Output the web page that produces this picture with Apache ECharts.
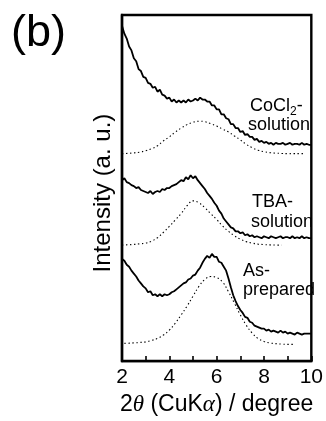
<!DOCTYPE html>
<html>
<head>
<meta charset="utf-8">
<script src="https://cdn.jsdelivr.net/npm/echarts@6/dist/echarts.min.js"></script>
<style>
  html, body { margin: 0; padding: 0; background: #fff; }
  #chart { width: 326px; height: 421px; }
</style>
</head>
<body>
<div id="chart"></div>
<script>
// 2theta sampling of the measured patterns (2.0 .. 10.0, step 0.1)
const scanX = Array.from({ length: 81 }, (_, i) => +(2 + i * 0.1).toFixed(1));

// measured XRD intensities (a.u., stacked offsets included)
const cocl2Scan = [
  341, 333, 328, 320, 316, 308, 305, 297, 295, 289,
  288, 283, 282, 278, 279, 274, 276, 271, 270, 267,
  268, 264, 266, 263, 265, 263, 265, 263, 266, 264,
  265, 267, 265, 268, 266, 266, 264, 264, 260, 260,
  256, 256, 251, 251, 247, 246, 241, 241, 237, 237,
  233, 234, 230, 231, 228, 228, 225, 226, 223, 224,
  222, 223, 221, 222, 220, 222, 221, 221, 222, 220,
  221, 222, 220, 221, 221, 220, 222, 220, 221, 220, 220
];
const tbaScan = [
  184, 186, 182, 181, 179, 178, 176, 177, 174, 173,
  172, 171, 173, 170, 172, 173, 172, 175, 174, 176,
  176, 178, 179, 180, 182, 184, 183, 187, 185, 189,
  186, 188, 184, 181, 178, 175, 171, 168, 165, 161,
  158, 153, 150, 145, 142, 139, 136, 135, 132, 132,
  130, 131, 128, 129, 127, 128, 126, 127, 126, 125,
  127, 126, 125, 127, 126, 125, 126, 127, 125, 126,
  126, 125, 127, 125, 126, 125, 127, 125, 126, 125, 125
];
const asPrepScan = [
  104, 102, 98, 96, 92, 89, 86, 82, 79, 76,
  74, 70, 71, 67, 68, 66, 68, 66, 68, 67,
  68, 70, 71, 73, 75, 77, 79, 80, 83, 84,
  87, 88, 92, 95, 100, 104, 107, 105, 109, 106,
  106, 101, 100, 96, 92, 84, 75, 67, 61, 56,
  52, 49, 45, 44, 40, 39, 36, 35, 34, 33,
  33, 31, 32, 30, 31, 30, 29, 31, 29, 30,
  28, 29, 28, 27, 29, 28, 27, 28, 28, 28, 28
];

// simulated patterns (dotted)
const cocl2FitX = [2.0, 2.25, 2.5, 2.75, 3.0, 3.25, 3.5, 3.75, 4.0, 4.25, 4.5, 4.75, 5.0, 5.25, 5.5, 5.75,
  6.0, 6.25, 6.5, 6.75, 7.0, 7.25, 7.5, 7.75, 8.0, 8.25, 8.5, 8.75, 9.0, 9.25, 9.5, 9.75];
const cocl2Fit = [211, 211.3, 211.8, 212.5, 214, 216, 219, 224, 228, 233, 237, 240.5, 243, 244, 243.5, 241.5,
  239, 236, 233, 229, 225, 220.5, 217, 214.5, 213, 212, 211.5, 211.2, 211, 211, 211, 211];

const tbaFitX = [2.0, 2.25, 2.5, 2.75, 3.0, 3.25, 3.5, 3.75, 4.0, 4.25, 4.5, 4.75, 5.0, 5.25,
  5.5, 5.75, 6.0, 6.25, 6.5, 6.75, 7.0, 7.25, 7.5, 7.75, 8.0, 8.25, 8.5, 8.75];
const tbaFit = [118, 118.3, 118.7, 119.3, 120, 122, 125.5, 131, 137, 143.5, 150, 158, 163, 161,
  156, 150, 144, 137.5, 132, 127.5, 124, 121.5, 120, 119, 118.5, 118.2, 118, 118];

const asPrepFitX = [2.1, 2.25, 2.5, 2.75, 3.0, 3.25, 3.5, 3.75, 4.0, 4.25, 4.5, 4.75, 5.0, 5.25, 5.5, 5.75,
  6.0, 6.25, 6.5, 6.75, 7.0, 7.25, 7.5, 7.75, 8.0, 8.25, 8.5, 8.75, 9.0, 9.25];
const asPrepFit = [18, 18.2, 18.5, 19, 19.5, 21, 23, 26.5, 31.5, 38.5, 47, 56, 66, 76, 83, 86,
  85, 80.5, 70.5, 59, 47, 36.5, 28.5, 23, 20, 18.5, 17.7, 17.3, 17, 17];

const xTickLabels = { 2: '2', 4: '4', 6: '6', 8: '8', 10: '10' };

const FONT = '"Liberation Sans", Arial, Helvetica, sans-serif';
const SERIF = '"Liberation Serif", "Times New Roman", serif';

const zip = (xs, ys) => xs.map((x, i) => [x, ys[i]]);

const chart = echarts.init(document.getElementById('chart'));

const scanLine = (name, ys) => ({
  name,
  type: 'line',
  data: zip(scanX, ys),
  symbol: 'none',
  lineStyle: { color: '#000', width: 1.8 },
  silent: true,
});
const fitLine = (name, xs, ys) => ({
  name,
  type: 'line',
  data: zip(xs, ys),
  smooth: 0.4,
  symbol: 'none',
  lineStyle: { color: '#000', width: 1.1, type: [1.4, 2.6] },
  silent: true,
});

const labelText = (text, left, top) => ({
  type: 'text', left, top,
  style: { text, font: '18px ' + FONT, fill: '#000' },
});

chart.setOption({
  animation: false,
  backgroundColor: '#fff',
  title: {
    text: '(b)',
    left: 6,
    top: 6,
    textStyle: { fontFamily: FONT, fontSize: 45, fontWeight: 'normal', color: '#000' },
  },
  grid: {
    left: 122, right: 12, top: 15, bottom: 54,
    show: true, borderColor: '#000', borderWidth: 2.4, backgroundColor: 'transparent',
  },
  xAxis: {
    type: 'value',
    min: 2, max: 10, interval: 1,
    axisLine: { show: true, lineStyle: { color: '#000', width: 2.4 } },
    axisTick: { show: true, inside: true, length: 5, lineStyle: { color: '#000', width: 1.6 } },
    axisLabel: {
      color: '#000', fontFamily: FONT, fontSize: 21, margin: 6,
      formatter: (v) => xTickLabels[v] || '',
    },
    splitLine: { show: false },
    name: '{n|2}{g|θ}{n| (CuK}{g|α}{n|) / degree}',
    nameLocation: 'middle',
    nameGap: 27,
    nameTextStyle: {
      rich: {
        n: { fontFamily: FONT, fontSize: 23, color: '#000' },
        g: { fontFamily: SERIF, fontStyle: 'italic', fontSize: 23, color: '#000' },
      },
    },
  },
  yAxis: {
    type: 'value',
    min: 0, max: 352,
    axisLine: { show: true, lineStyle: { color: '#000', width: 2.4 } },
    axisTick: { show: false },
    axisLabel: { show: false },
    splitLine: { show: false },
    name: 'Intensity (a. u.)',
    nameLocation: 'middle',
    nameGap: 7,
    nameTextStyle: { fontFamily: FONT, fontSize: 24, color: '#000', padding: [0, 10, 0, 0] },
  },
  graphic: [
    { type: 'text', left: 250, top: 97, style: { text: '{n|CoCl}{s|2}{n|-}', font: '18px ' + FONT, fill: '#000',
        rich: { n: { fontFamily: FONT, fontSize: 18, color: '#000', lineHeight: 20, verticalAlign: 'bottom' },
                s: { fontFamily: FONT, fontSize: 12, color: '#000', lineHeight: 20, verticalAlign: 'bottom', padding: [0, 0, -3, 0] } } } },
    labelText('solution', 248, 116),
    labelText('TBA-', 252, 193),
    labelText('solution', 251, 213),
    labelText('As-', 243, 262),
    labelText('prepared', 243, 281),
  ],
  series: [
    scanLine('CoCl2-solution', cocl2Scan),
    fitLine('CoCl2-solution fit', cocl2FitX, cocl2Fit),
    scanLine('TBA-solution', tbaScan),
    fitLine('TBA-solution fit', tbaFitX, tbaFit),
    scanLine('As-prepared', asPrepScan),
    fitLine('As-prepared fit', asPrepFitX, asPrepFit),
  ],
});
</script>
</body>
</html>
